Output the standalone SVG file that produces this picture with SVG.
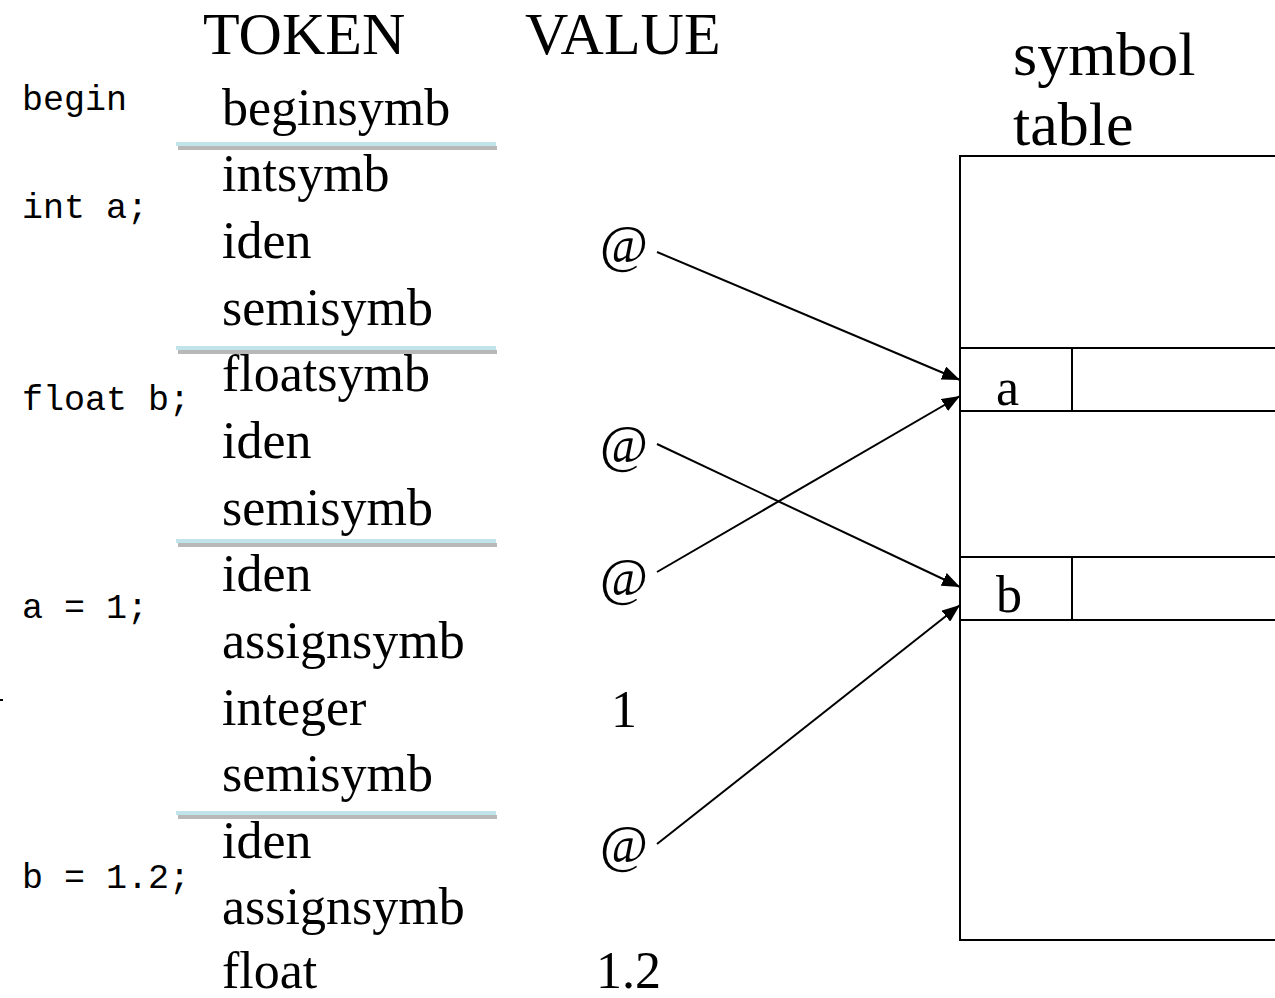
<svg xmlns="http://www.w3.org/2000/svg" width="1275" height="998" viewBox="0 0 1275 998">
<style>
.t{font-family:"Liberation Serif","Times New Roman",serif;font-size:52px;fill:#000}
.h{font-family:"Liberation Serif","Times New Roman",serif;font-size:60px;fill:#000}
.s{font-family:"Liberation Serif","Times New Roman",serif;font-size:62px;fill:#000}
.c{font-family:"Liberation Mono","Courier New",monospace;font-size:35px;fill:#000}
.sep{stroke:#c0e4e9;stroke-width:4}
.shd{stroke:#b8b8b8;stroke-width:4}
.ln{stroke:#000;stroke-width:2;fill:none}
.ar{stroke:#000;stroke-width:2;fill:none;marker-end:url(#ah)}
</style>
<defs>
<marker id="ah" viewBox="0 0 18 14" refX="18" refY="7" markerWidth="18" markerHeight="14" markerUnits="userSpaceOnUse" orient="auto">
<path d="M0,0 L18,7 L0,14 Z" fill="#000"/>
</marker>
</defs>
<rect width="1275" height="998" fill="#fff"/>
<g id="headers">
<text class="h" x="203" y="54">TOKEN</text>
<text class="h" x="525" y="54">VALUE</text>
<text class="s" x="1013" y="75">symbol</text>
<text class="s" x="1013" y="145">table</text>
</g>
<g id="code">
<text class="c" x="22" y="110">begin</text>
<text class="c" x="22" y="218">int a;</text>
<text class="c" x="22" y="410">float b;</text>
<text class="c" x="22" y="618">a = 1;</text>
<text class="c" x="22" y="888">b = 1.2;</text>
</g>
<g id="separators">
<line class="shd" x1="178" y1="148" x2="497" y2="148"/>
<line class="sep" x1="176" y1="144" x2="496" y2="144"/>
<line class="shd" x1="178" y1="352" x2="497" y2="352"/>
<line class="sep" x1="176" y1="348" x2="496" y2="348"/>
<line class="shd" x1="178" y1="545" x2="497" y2="545"/>
<line class="sep" x1="176" y1="541" x2="496" y2="541"/>
<line class="shd" x1="178" y1="817" x2="497" y2="817"/>
<line class="sep" x1="176" y1="813" x2="496" y2="813"/>
</g>
<g id="tokens">
<text class="t" x="222" y="125">beginsymb</text>
<text class="t" x="222" y="191">intsymb</text>
<text class="t" x="222" y="258">iden</text>
<text class="t" x="222" y="325">semisymb</text>
<text class="t" x="222" y="391">floatsymb</text>
<text class="t" x="222" y="458">iden</text>
<text class="t" x="222" y="525">semisymb</text>
<text class="t" x="222" y="591">iden</text>
<text class="t" x="222" y="658">assignsymb</text>
<text class="t" x="222" y="725">integer</text>
<text class="t" x="222" y="791">semisymb</text>
<text class="t" x="222" y="858">iden</text>
<text class="t" x="222" y="924">assignsymb</text>
<text class="t" x="222" y="988">float</text>
</g>
<g id="values">
<text class="t" x="600" y="262">@</text>
<text class="t" x="600" y="462">@</text>
<text class="t" x="600" y="595">@</text>
<text class="t" x="611" y="727">1</text>
<text class="t" x="600" y="862">@</text>
<text class="t" x="596" y="988">1.2</text>
</g>
<g id="symbol-table">
<path class="ln" d="M1276,156 H960 V940 H1276"/>
<path class="ln" d="M960,348 H1276 M960,411 H1276 M1072,348 V411"/>
<path class="ln" d="M960,557 H1276 M960,620 H1276 M1072,557 V620"/>
<text class="t" x="996" y="405">a</text>
<text class="t" x="996" y="612">b</text>
</g>
<g id="connectors">
<line class="ar" x1="657" y1="252" x2="960" y2="380"/>
<line class="ar" x1="657" y1="444" x2="960" y2="587"/>
<line class="ar" x1="657" y1="572" x2="960" y2="396"/>
<line class="ar" x1="657" y1="844" x2="960" y2="605"/>
</g>
<rect x="0" y="699" width="3" height="2" fill="#000"/>
</svg>
